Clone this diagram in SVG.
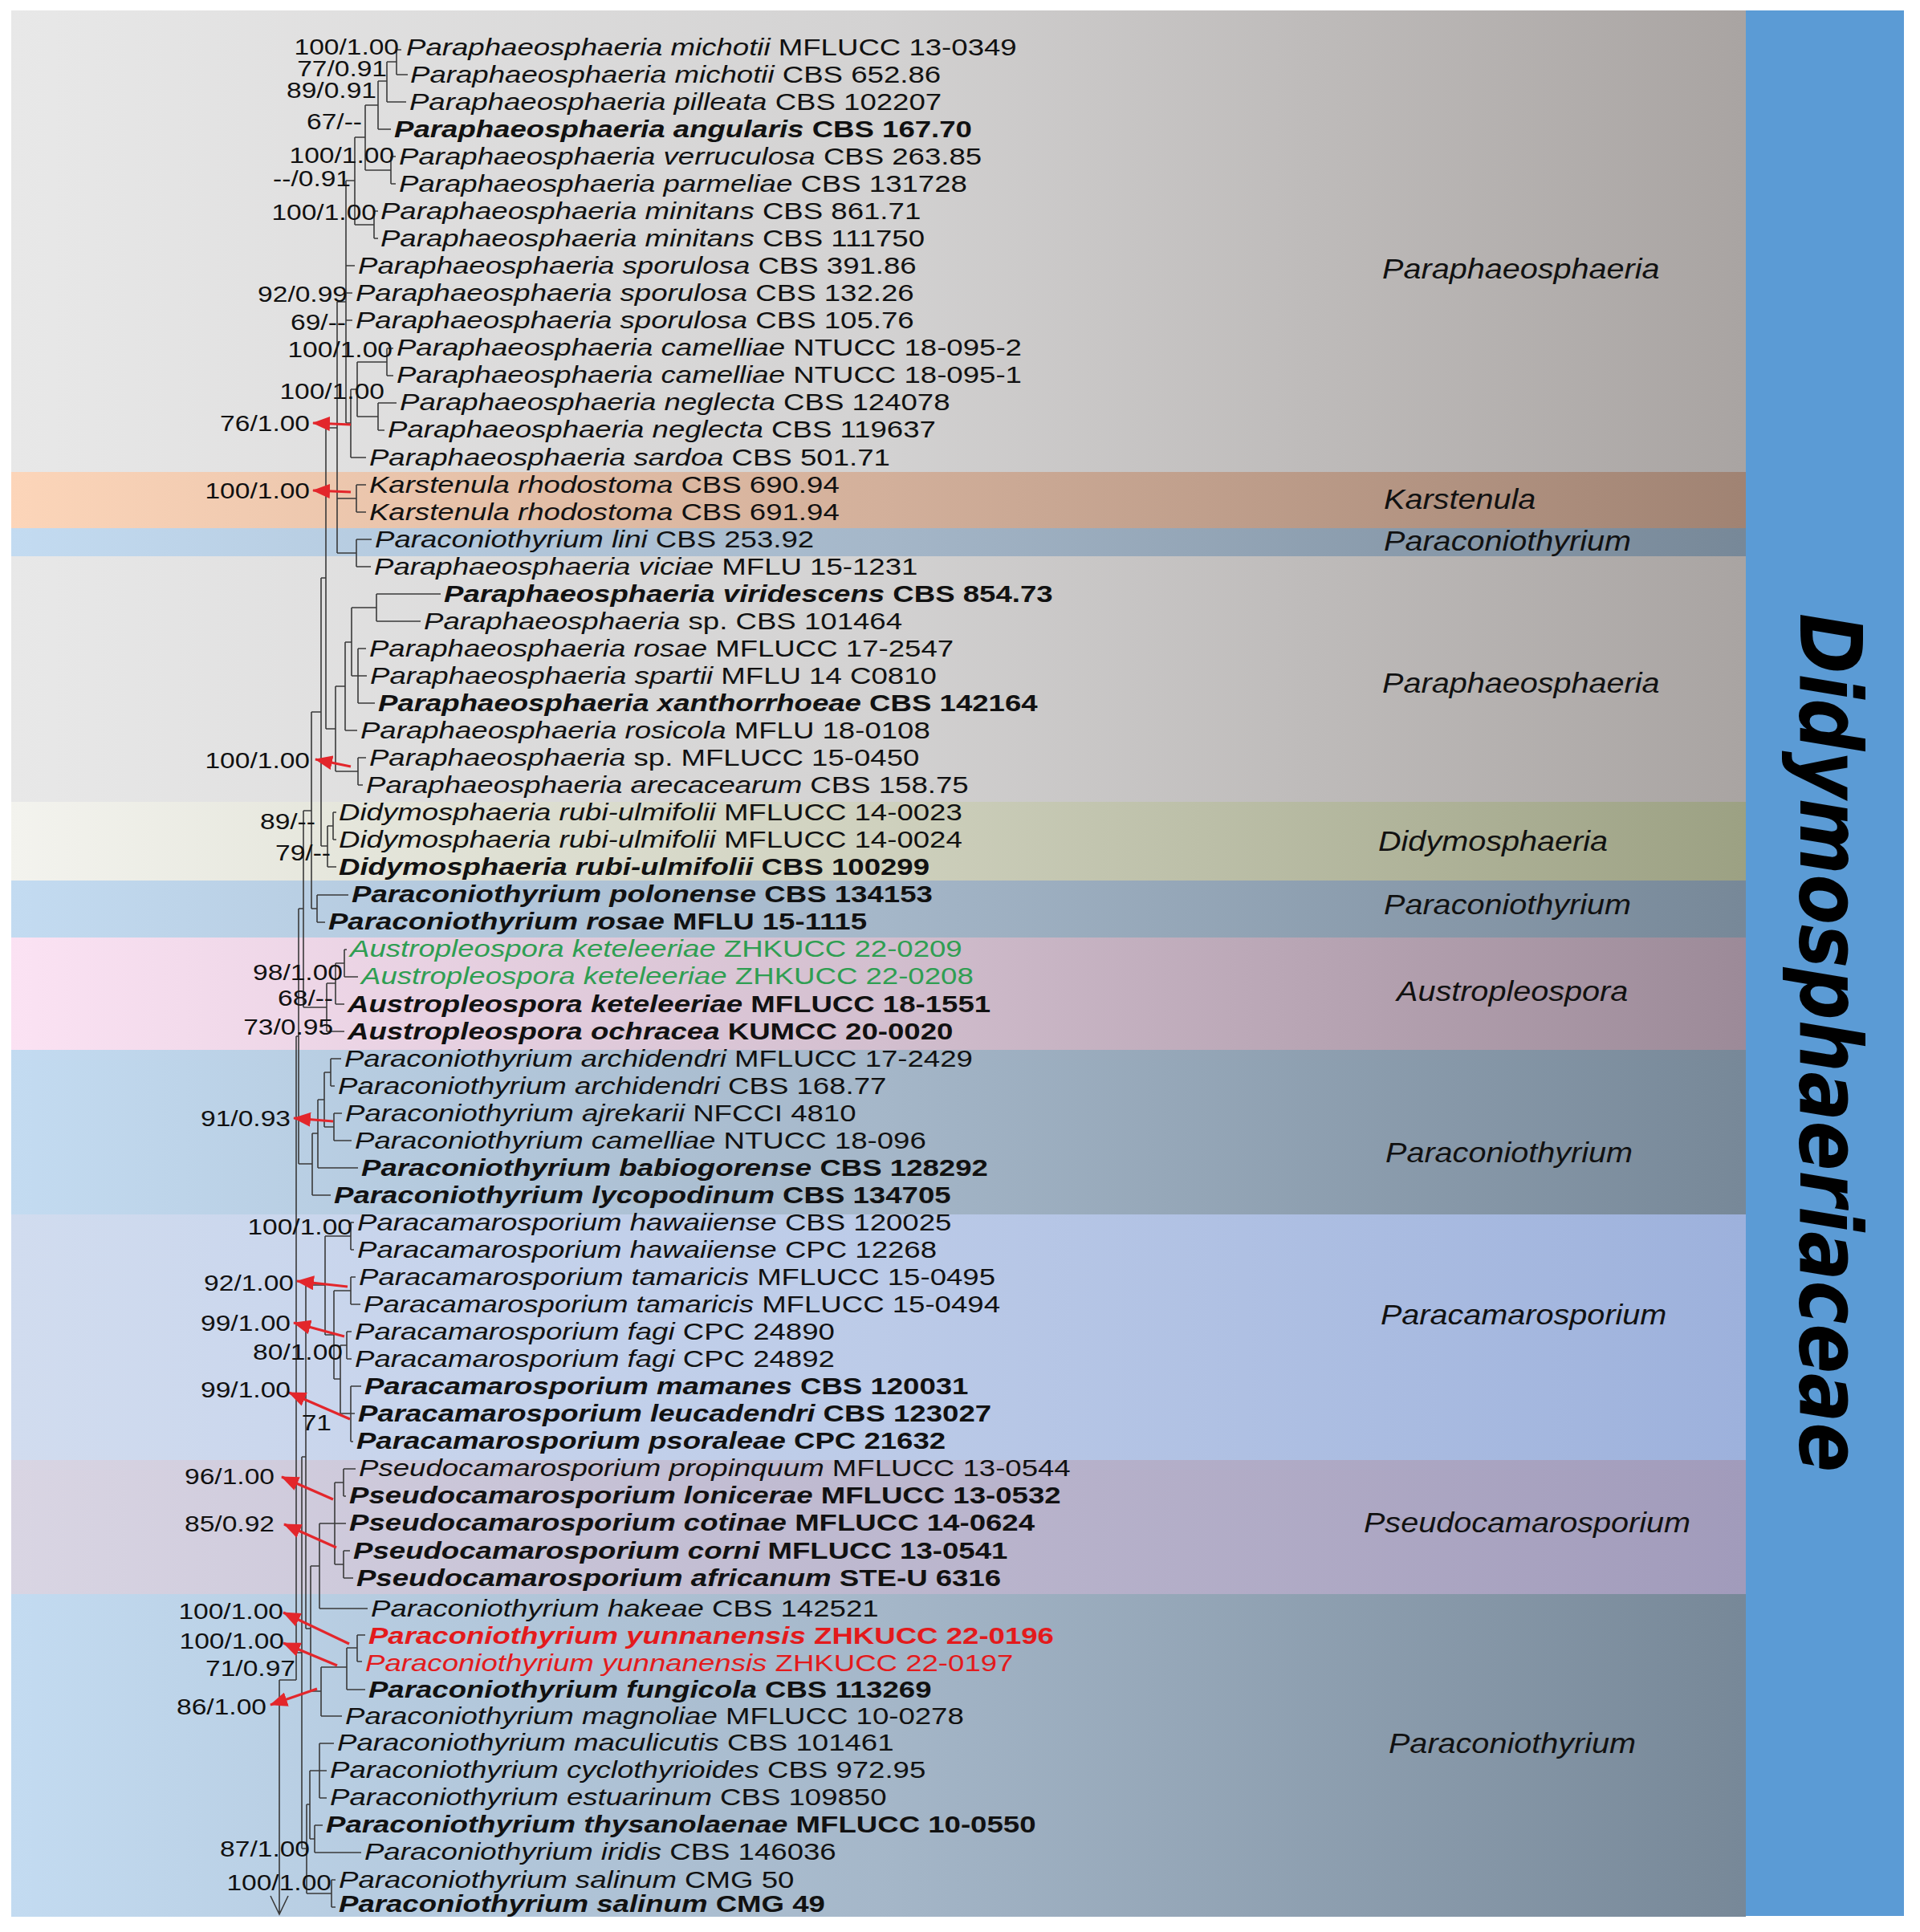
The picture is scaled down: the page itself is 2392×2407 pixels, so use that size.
<svg xmlns="http://www.w3.org/2000/svg" width="2392" height="2407" viewBox="0 0 2392 2407">
<style>
.tx{font-family:"Liberation Sans",Arial,sans-serif;font-size:30px;fill:#111}
.b{font-weight:bold}
.i{font-style:italic}
.g{fill:#2f9e52}
.r{fill:#e31a1c}
.sv{font-family:"Liberation Sans",Arial,sans-serif;font-size:27.5px;fill:#111;text-anchor:end}
.cl{font-family:"Liberation Sans",Arial,sans-serif;font-size:36px;font-style:italic;fill:#111}
.tree{fill:none;stroke:#3a3a3a;stroke-width:1.6}
.ra{fill:none;stroke:#e3262b;stroke-width:3.2;marker-end:url(#ah)}
</style>
<defs>
<marker id="ah" markerUnits="userSpaceOnUse" markerWidth="22" markerHeight="18" refX="21" refY="9" orient="auto"><path d="M0,0 L22,9 L0,18 z" fill="#e3262b"/></marker>
<linearGradient id="gGray" gradientUnits="userSpaceOnUse" x1="14" y1="0" x2="2175" y2="0"><stop offset="0" stop-color="#e8e8e8"/><stop offset="0.5" stop-color="#d3d2d2"/><stop offset="1" stop-color="#a9a4a2"/></linearGradient>
<linearGradient id="gKar" gradientUnits="userSpaceOnUse" x1="14" y1="0" x2="2175" y2="0"><stop offset="0" stop-color="#fcd5b9"/><stop offset="0.5" stop-color="#d3b09b"/><stop offset="1" stop-color="#a08373"/></linearGradient>
<linearGradient id="gBlu" gradientUnits="userSpaceOnUse" x1="14" y1="0" x2="2175" y2="0"><stop offset="0" stop-color="#c3dbf1"/><stop offset="0.5" stop-color="#a5b7c9"/><stop offset="1" stop-color="#778898"/></linearGradient>
<linearGradient id="gDid" gradientUnits="userSpaceOnUse" x1="14" y1="0" x2="2175" y2="0"><stop offset="0" stop-color="#f3f3ee"/><stop offset="0.5" stop-color="#cfd1be"/><stop offset="1" stop-color="#9ca183"/></linearGradient>
<linearGradient id="gAus" gradientUnits="userSpaceOnUse" x1="14" y1="0" x2="2175" y2="0"><stop offset="0" stop-color="#fbe2f3"/><stop offset="0.5" stop-color="#d3bfcf"/><stop offset="1" stop-color="#9c8a98"/></linearGradient>
<linearGradient id="gCam" gradientUnits="userSpaceOnUse" x1="14" y1="0" x2="2175" y2="0"><stop offset="0" stop-color="#d1dcef"/><stop offset="0.5" stop-color="#bccbe8"/><stop offset="1" stop-color="#9db1dc"/></linearGradient>
<linearGradient id="gPse" gradientUnits="userSpaceOnUse" x1="14" y1="0" x2="2175" y2="0"><stop offset="0" stop-color="#d9d5e3"/><stop offset="0.5" stop-color="#bdb8cf"/><stop offset="1" stop-color="#a19bbb"/></linearGradient>
</defs>
<rect width="2392" height="2407" fill="#ffffff"/>
<g id="bands">
<rect x="14" y="13" width="2161" height="575" fill="url(#gGray)"/>
<rect x="14" y="588" width="2161" height="70" fill="url(#gKar)"/>
<rect x="14" y="658" width="2161" height="35" fill="url(#gBlu)"/>
<rect x="14" y="693" width="2161" height="306" fill="url(#gGray)"/>
<rect x="14" y="999" width="2161" height="98" fill="url(#gDid)"/>
<rect x="14" y="1097" width="2161" height="71" fill="url(#gBlu)"/>
<rect x="14" y="1168" width="2161" height="140" fill="url(#gAus)"/>
<rect x="14" y="1308" width="2161" height="205" fill="url(#gBlu)"/>
<rect x="14" y="1513" width="2161" height="306" fill="url(#gCam)"/>
<rect x="14" y="1819" width="2161" height="167" fill="url(#gPse)"/>
<rect x="14" y="1986" width="2161" height="402" fill="url(#gBlu)"/>
</g>
<g id="family">
<rect x="2175" y="13" width="197" height="2374" fill="#5b9bd5"/>
<text transform="translate(2243,764) scale(1.22,1) rotate(90)" font-family="'DejaVu Sans',Verdana,sans-serif" font-size="88" font-weight="bold" font-style="italic" fill="#000" textLength="1070" lengthAdjust="spacingAndGlyphs">Didymosphaeriaceae</text>
</g>
<g id="connectors">
<path class="tree" d="M494 62V93M494 62H500M494 93H508M482 77V127M482 77H494M482 127H506M471 101V161M471 101H482M471 161H487M487 195V229M487 195H493M487 229H493M455 131V212M455 131H471M455 212H487M466 263V297M466 263H471M466 297H471M442 171V280M442 171H455M442 280H466M431 225V527M431 225H442M431 331H442M431 365H439M431 399H439M482 434V468M482 434H490M482 468H490M471 502V536M471 502H494M471 536H479M445 451V519M445 451H482M445 519H471M437 485V570M437 485H445M437 570H456M431 527H437M444 604V638M444 604H456M444 638H456M420 376V689M420 376H431M420 621H444M420 689H444M444 672V706M444 672H463M444 706H462"/>
<path class="tree" d="M469 740V774M469 740H549M469 774H524M446 808V876M446 808H456M446 842H457M446 876H467M438 757V842M438 757H469M438 842H446M430 800V910M430 800H438M430 910H445M446 944V978M446 944H456M446 978H452M418 855V961M418 855H430M418 961H446M406 533V908M406 533H420M406 908H418"/>
<path class="tree" d="M415 1012V1046M415 1012H419M415 1046H419M408 1029V1080M408 1029H415M408 1080H419M400 720V1054M400 720H406M400 1054H408M395 1115V1149M395 1115H434M395 1149H405M388 887V1132M388 887H400M388 1132H395"/>
<path class="tree" d="M429 1183V1217M429 1183H432M429 1217H446M418 1200V1251M418 1200H429M418 1251H429M407 1225V1285M407 1225H418M407 1285H429M412 1319V1353M412 1319H425M412 1353H417M416 1387V1421M416 1387H426M416 1421H438M404 1336V1404M404 1336H412M404 1404H416M396 1370V1455M396 1370H404M396 1455H446M389 1412V1489M389 1412H396M389 1489H412M378 1010V1255M378 1010H388M378 1255H407M372 1132V1450M372 1132H378M372 1450H389"/>
<path class="tree" d="M437 1523V1557M437 1523H441M437 1557H441M437 1591V1625M437 1591H443M437 1625H449M432 1659V1693M432 1659H438M432 1693H438M437 1727V1796M437 1727H450M437 1761H442M437 1796H440M424 1676V1761M424 1676H432M424 1761H437M416 1608V1718M416 1608H437M416 1718H424M405 1540V1663M405 1540H437M405 1663H416"/>
<path class="tree" d="M428 1830V1864M428 1830H443M428 1864H431M428 1932V1966M428 1932H436M428 1966H440M417 1847V1949M417 1847H428M417 1898H431M417 1949H428M398 1898V2004M398 1898H417M398 2004H458"/>
<path class="tree" d="M445 2037V2070M445 2037H455M445 2070H451M432 2053V2105M432 2053H445M432 2105H455M400 2077V2138M400 2077H432M400 2138H426M387 1951V2107M387 1951H398M387 2107H400M381 1601V2029M381 1601H405M381 2029H387M398 2172V2240M398 2172H416M398 2206H407M398 2240H407M392 2274V2308M392 2274H402M392 2308H450M386 2206V2291M386 2206H398M386 2291H392M413 2342V2376M413 2342H418M413 2376H418M382 2248V2359M382 2248H386M382 2359H413M376 1815V2303M376 1815H381M376 2303H382M369 1291V2093M369 1291H372M369 2059H376M348 2093H369M348 2093V2384M337 2362L348 2385L359 2362"/>
<path class="ra" d="M437 529L390 527"/>
<path class="ra" d="M437 613L390 611"/>
<path class="ra" d="M437 955L393 946"/>
<path class="ra" d="M415 1397L366 1393"/>
<path class="ra" d="M433 1603L370 1596"/>
<path class="ra" d="M429 1665L366 1648"/>
<path class="ra" d="M436 1768L360 1735"/>
<path class="ra" d="M415 1868L351 1840"/>
<path class="ra" d="M419 1928L354 1899"/>
<path class="ra" d="M435 2048L353 2009"/>
<path class="ra" d="M420 2075L353 2047"/>
<path class="ra" d="M395 2104L337 2124"/>
</g>
<g id="taxa" class="tx" transform="scale(1.22,1)">
<g id="tax1"><text x="414.8" y="69"><tspan class="i">Paraphaeosphaeria michotii</tspan> MFLUCC 13-0349</text></g>
<g id="tax2"><text x="418.9" y="103"><tspan class="i">Paraphaeosphaeria michotii</tspan> CBS 652.86</text></g>
<g id="tax3"><text x="418.0" y="137"><tspan class="i">Paraphaeosphaeria pilleata</tspan> CBS 102207</text></g>
<g id="tax4"><text class="b" x="402.5" y="171"><tspan class="i">Paraphaeosphaeria angularis</tspan> CBS 167.70</text></g>
<g id="tax5"><text x="407.4" y="205"><tspan class="i">Paraphaeosphaeria verruculosa</tspan> CBS 263.85</text></g>
<g id="tax6"><text x="407.4" y="239"><tspan class="i">Paraphaeosphaeria parmeliae</tspan> CBS 131728</text></g>
<g id="tax7"><text x="388.5" y="273"><tspan class="i">Paraphaeosphaeria minitans</tspan> CBS 861.71</text></g>
<g id="tax8"><text x="388.5" y="307"><tspan class="i">Paraphaeosphaeria minitans</tspan> CBS 111750</text></g>
<g id="tax9"><text x="365.6" y="341"><tspan class="i">Paraphaeosphaeria sporulosa</tspan> CBS 391.86</text></g>
<g id="tax10"><text x="363.1" y="375"><tspan class="i">Paraphaeosphaeria sporulosa</tspan> CBS 132.26</text></g>
<g id="tax11"><text x="363.1" y="409.5"><tspan class="i">Paraphaeosphaeria sporulosa</tspan> CBS 105.76</text></g>
<g id="tax12"><text x="404.9" y="443.5"><tspan class="i">Paraphaeosphaeria camelliae</tspan> NTUCC 18-095-2</text></g>
<g id="tax13"><text x="404.9" y="477.5"><tspan class="i">Paraphaeosphaeria camelliae</tspan> NTUCC 18-095-1</text></g>
<g id="tax14"><text x="408.2" y="511.5"><tspan class="i">Paraphaeosphaeria neglecta</tspan> CBS 124078</text></g>
<g id="tax15"><text x="395.9" y="545.5"><tspan class="i">Paraphaeosphaeria neglecta</tspan> CBS 119637</text></g>
<g id="tax16"><text x="377.0" y="580"><tspan class="i">Paraphaeosphaeria sardoa</tspan> CBS 501.71</text></g>
<g id="tax17"><text x="377.0" y="614"><tspan class="i">Karstenula rhodostoma</tspan> CBS 690.94</text></g>
<g id="tax18"><text x="377.0" y="648"><tspan class="i">Karstenula rhodostoma</tspan> CBS 691.94</text></g>
<g id="tax19"><text x="382.8" y="682"><tspan class="i">Paraconiothyrium lini</tspan> CBS 253.92</text></g>
<g id="tax20"><text x="382.0" y="716"><tspan class="i">Paraphaeosphaeria viciae</tspan> MFLU 15-1231</text></g>
<g id="tax21"><text class="b" x="453.3" y="750"><tspan class="i">Paraphaeosphaeria viridescens</tspan> CBS 854.73</text></g>
<g id="tax22"><text x="432.8" y="784"><tspan class="i">Paraphaeosphaeria</tspan> sp. CBS 101464</text></g>
<g id="tax23"><text x="377.0" y="818"><tspan class="i">Paraphaeosphaeria rosae</tspan> MFLUCC 17-2547</text></g>
<g id="tax24"><text x="377.9" y="852"><tspan class="i">Paraphaeosphaeria spartii</tspan> MFLU 14 C0810</text></g>
<g id="tax25"><text class="b" x="386.1" y="886"><tspan class="i">Paraphaeosphaeria xanthorrhoeae</tspan> CBS 142164</text></g>
<g id="tax26"><text x="368.0" y="920"><tspan class="i">Paraphaeosphaeria rosicola</tspan> MFLU 18-0108</text></g>
<g id="tax27"><text x="377.0" y="954"><tspan class="i">Paraphaeosphaeria</tspan> sp. MFLUCC 15-0450</text></g>
<g id="tax28"><text x="373.8" y="988"><tspan class="i">Paraphaeosphaeria arecacearum</tspan> CBS 158.75</text></g>
<g id="tax29"><text x="345.9" y="1022"><tspan class="i">Didymosphaeria rubi-ulmifolii</tspan> MFLUCC 14-0023</text></g>
<g id="tax30"><text x="345.9" y="1056"><tspan class="i">Didymosphaeria rubi-ulmifolii</tspan> MFLUCC 14-0024</text></g>
<g id="tax31"><text class="b" x="345.9" y="1090.5"><tspan class="i">Didymosphaeria rubi-ulmifolii</tspan> CBS 100299</text></g>
<g id="tax32"><text class="b" x="359.0" y="1124.5"><tspan class="i">Paraconiothyrium polonense</tspan> CBS 134153</text></g>
<g id="tax33"><text class="b" x="335.2" y="1158.5"><tspan class="i">Paraconiothyrium rosae</tspan> MFLU 15-1115</text></g>
<g id="tax34"><text class="g" x="357.4" y="1192.5"><tspan class="i">Austropleospora keteleeriae</tspan> ZHKUCC 22-0209</text></g>
<g id="tax35"><text class="g" x="368.9" y="1226.5"><tspan class="i">Austropleospora keteleeriae</tspan> ZHKUCC 22-0208</text></g>
<g id="tax36"><text class="b" x="354.9" y="1261"><tspan class="i">Austropleospora keteleeriae</tspan> MFLUCC 18-1551</text></g>
<g id="tax37"><text class="b" x="354.9" y="1295"><tspan class="i">Austropleospora ochracea</tspan> KUMCC 20-0020</text></g>
<g id="tax38"><text x="351.6" y="1329"><tspan class="i">Paraconiothyrium archidendri</tspan> MFLUCC 17-2429</text></g>
<g id="tax39"><text x="345.1" y="1363"><tspan class="i">Paraconiothyrium archidendri</tspan> CBS 168.77</text></g>
<g id="tax40"><text x="352.5" y="1397"><tspan class="i">Paraconiothyrium ajrekarii</tspan> NFCCI 4810</text></g>
<g id="tax41"><text x="362.3" y="1431"><tspan class="i">Paraconiothyrium camelliae</tspan> NTUCC 18-096</text></g>
<g id="tax42"><text class="b" x="368.9" y="1465"><tspan class="i">Paraconiothyrium babiogorense</tspan> CBS 128292</text></g>
<g id="tax43"><text class="b" x="341.0" y="1499"><tspan class="i">Paraconiothyrium lycopodinum</tspan> CBS 134705</text></g>
<g id="tax44"><text x="364.8" y="1533"><tspan class="i">Paracamarosporium hawaiiense</tspan> CBS 120025</text></g>
<g id="tax45"><text x="364.8" y="1567"><tspan class="i">Paracamarosporium hawaiiense</tspan> CPC 12268</text></g>
<g id="tax46"><text x="366.4" y="1601"><tspan class="i">Paracamarosporium tamaricis</tspan> MFLUCC 15-0495</text></g>
<g id="tax47"><text x="371.3" y="1635"><tspan class="i">Paracamarosporium tamaricis</tspan> MFLUCC 15-0494</text></g>
<g id="tax48"><text x="362.3" y="1669"><tspan class="i">Paracamarosporium fagi</tspan> CPC 24890</text></g>
<g id="tax49"><text x="362.3" y="1703"><tspan class="i">Paracamarosporium fagi</tspan> CPC 24892</text></g>
<g id="tax50"><text class="b" x="372.1" y="1737.5"><tspan class="i">Paracamarosporium mamanes</tspan> CBS 120031</text></g>
<g id="tax51"><text class="b" x="365.6" y="1771.5"><tspan class="i">Paracamarosporium leucadendri</tspan> CBS 123027</text></g>
<g id="tax52"><text class="b" x="363.9" y="1805.5"><tspan class="i">Paracamarosporium psoraleae</tspan> CPC 21632</text></g>
<g id="tax53"><text x="366.4" y="1839.5"><tspan class="i">Pseudocamarosporium propinquum</tspan> MFLUCC 13-0544</text></g>
<g id="tax54"><text class="b" x="356.6" y="1873.5"><tspan class="i">Pseudocamarosporium lonicerae</tspan> MFLUCC 13-0532</text></g>
<g id="tax55"><text class="b" x="356.6" y="1907.5"><tspan class="i">Pseudocamarosporium cotinae</tspan> MFLUCC 14-0624</text></g>
<g id="tax56"><text class="b" x="360.7" y="1942"><tspan class="i">Pseudocamarosporium corni</tspan> MFLUCC 13-0541</text></g>
<g id="tax57"><text class="b" x="363.9" y="1976"><tspan class="i">Pseudocamarosporium africanum</tspan> STE-U 6316</text></g>
<g id="tax58"><text x="378.7" y="2014"><tspan class="i">Paraconiothyrium hakeae</tspan> CBS 142521</text></g>
<g id="tax59"><text class="b r" x="376.2" y="2048"><tspan class="i">Paraconiothyrium yunnanensis</tspan> ZHKUCC 22-0196</text></g>
<g id="tax60"><text class="r" x="373.0" y="2082"><tspan class="i">Paraconiothyrium yunnanensis</tspan> ZHKUCC 22-0197</text></g>
<g id="tax61"><text class="b" x="376.2" y="2115"><tspan class="i">Paraconiothyrium fungicola</tspan> CBS 113269</text></g>
<g id="tax62"><text x="352.5" y="2148"><tspan class="i">Paraconiothyrium magnoliae</tspan> MFLUCC 10-0278</text></g>
<g id="tax63"><text x="344.3" y="2181"><tspan class="i">Paraconiothyrium maculicutis</tspan> CBS 101461</text></g>
<g id="tax64"><text x="336.9" y="2215"><tspan class="i">Paraconiothyrium cyclothyrioides</tspan> CBS 972.95</text></g>
<g id="tax65"><text x="336.9" y="2249"><tspan class="i">Paraconiothyrium estuarinum</tspan> CBS 109850</text></g>
<g id="tax66"><text class="b" x="332.8" y="2283"><tspan class="i">Paraconiothyrium thysanolaenae</tspan> MFLUCC 10-0550</text></g>
<g id="tax67"><text x="372.1" y="2317"><tspan class="i">Paraconiothyrium iridis</tspan> CBS 146036</text></g>
<g id="tax68"><text x="345.9" y="2352"><tspan class="i">Paraconiothyrium salinum</tspan> CMG 50</text></g>
<g id="tax69"><text class="b" x="345.9" y="2382"><tspan class="i">Paraconiothyrium salinum</tspan> CMG 49</text></g>
</g>
<g id="support" class="sv" transform="scale(1.22,1)">
<text x="407.4" y="68">100/1.00</text>
<text x="395.1" y="95">77/0.91</text>
<text x="384.4" y="122">89/0.91</text>
<text x="369.7" y="161">67/--</text>
<text x="402.5" y="203">100/1.00</text>
<text x="358.2" y="232">--/0.91</text>
<text x="384.4" y="274">100/1.00</text>
<text x="354.9" y="376">92/0.99</text>
<text x="353.3" y="411">69/--</text>
<text x="400.8" y="445">100/1.00</text>
<text x="392.6" y="497">100/1.00</text>
<text x="316.4" y="537">76/1.00</text>
<text x="316.4" y="621">100/1.00</text>
<text x="316.4" y="957">100/1.00</text>
<text x="322.1" y="1033">89/--</text>
<text x="337.7" y="1072">79/--</text>
<text x="350.0" y="1221">98/1.00</text>
<text x="340.2" y="1253">68/--</text>
<text x="340.2" y="1289">73/0.95</text>
<text x="296.7" y="1403">91/0.93</text>
<text x="359.8" y="1538">100/1.00</text>
<text x="300.0" y="1608">92/1.00</text>
<text x="296.7" y="1658">99/1.00</text>
<text x="350.0" y="1694">80/1.00</text>
<text x="296.7" y="1741">99/1.00</text>
<text x="338.5" y="1782">71</text>
<text x="280.3" y="1849">96/1.00</text>
<text x="280.3" y="1908">85/0.92</text>
<text x="289.3" y="2017">100/1.00</text>
<text x="290.2" y="2054">100/1.00</text>
<text x="301.6" y="2088">71/0.97</text>
<text x="272.1" y="2136">86/1.00</text>
<text x="316.4" y="2313">87/1.00</text>
<text x="338.5" y="2355">100/1.00</text>
</g>
<g id="clades" class="cl" transform="scale(1.1,1)">
<g id="c1"><text x="1565.5" y="347">Paraphaeosphaeria</text></g>
<g id="c2"><text x="1567.3" y="634">Karstenula</text></g>
<g id="c3"><text x="1567.3" y="686">Paraconiothyrium</text></g>
<g id="c4"><text x="1565.5" y="863">Paraphaeosphaeria</text></g>
<g id="c5"><text x="1560.9" y="1060">Didymosphaeria</text></g>
<g id="c6"><text x="1567.3" y="1139">Paraconiothyrium</text></g>
<g id="c7"><text x="1581.8" y="1247">Austropleospora</text></g>
<g id="c8"><text x="1569.1" y="1448">Paraconiothyrium</text></g>
<g id="c9"><text x="1563.6" y="1650">Paracamarosporium</text></g>
<g id="c10"><text x="1544.5" y="1909">Pseudocamarosporium</text></g>
<g id="c11"><text x="1572.7" y="2184">Paraconiothyrium</text></g>
</g>
</svg>
